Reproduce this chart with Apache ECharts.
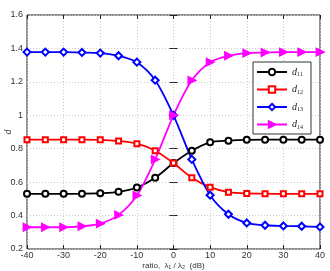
<!DOCTYPE html>
<html lang="en">
<head>
  <script src="https://cdn.jsdelivr.net/npm/echarts@6.0.0/dist/echarts.min.js"></script>
</head>
<body style="margin:0">
  <div id="ratioChart" style="width:330px;height:271px;"></div>
  <script type="text/javascript">
    var ratios = [-40, -35, -30, -25, -20, -15, -10, -5, 0, 5, 10, 15, 20, 25, 30, 35, 40];
    var d11 = [0.530, 0.530, 0.530, 0.531, 0.534, 0.542, 0.568, 0.626, 0.714, 0.788, 0.838, 0.848, 0.853, 0.854, 0.854, 0.854, 0.854];
    var d12 = [0.854, 0.854, 0.854, 0.854, 0.853, 0.846, 0.830, 0.788, 0.714, 0.626, 0.570, 0.540, 0.532, 0.531, 0.530, 0.530, 0.530];
    var d13 = [1.378, 1.378, 1.378, 1.376, 1.372, 1.356, 1.318, 1.210, 1.000, 0.736, 0.522, 0.408, 0.356, 0.342, 0.338, 0.336, 0.332];
    var d14 = [0.330, 0.330, 0.330, 0.336, 0.352, 0.404, 0.520, 0.736, 1.000, 1.209, 1.318, 1.356, 1.372, 1.376, 1.378, 1.378, 1.378];
    var seriesNames = ['d11', 'd12', 'd13', 'd14'];

    function pairs(values) {
      return ratios.map(function (r, i) { return [r, values[i]]; });
    }

    var chart = echarts.init(document.getElementById('ratioChart'));

    function line(name, values, color, symbol, extra) {
      var s = {
        name: name,
        type: 'line',
        data: pairs(values),
        smooth: 0.3,
        symbol: symbol,
        symbolSize: 6,
        lineStyle: { color: color, width: 1.8 },
        itemStyle: { color: color, borderColor: color, borderWidth: 1.8 }
      };
      for (var k in extra) s[k] = extra[k];
      return s;
    }

    var option = {
      animation: false,
      grid: {
        left: 27, right: 10, top: 15, bottom: 22,
        containLabel: false, outerBoundsMode: 'none',
        show: true, borderColor: '#222', borderWidth: 1
      },
      xAxis: [{
        type: 'value', min: -40, max: 40, interval: 10,
        axisLine: { show: false },
        axisTick: { inside: true, length: 4, lineStyle: { color: '#222' } },
        axisLabel: { fontFamily: 'Liberation Sans', fontSize: 9, color: '#333', margin: 2 },
        splitLine: { lineStyle: { color: '#ccc', type: [1, 2] } },
        name: 'ratio,  λ\u2081 / λ\u2082  (dB)',
        nameLocation: 'middle', nameGap: 13, nameMoveOverlap: false,
        nameTextStyle: { fontFamily: 'Liberation Sans', fontSize: 8, color: '#333' }
      }, {
        type: 'value', position: 'top', min: -40, max: 40, interval: 10,
        axisLine: { show: false }, axisLabel: { show: false }, splitLine: { show: false },
        axisTick: { inside: true, length: 4, lineStyle: { color: '#222' } }
      }],
      yAxis: [{
        type: 'value', min: 0.2, max: 1.6, interval: 0.2,
        axisLine: { show: false },
        axisTick: { inside: true, length: 4, lineStyle: { color: '#222' } },
        axisLabel: {
          fontFamily: 'Liberation Sans', fontSize: 9, color: '#333', margin: 4,
          formatter: function (v) { return String(Math.round(v * 10) / 10); }
        },
        splitLine: { lineStyle: { color: '#ccc', type: [1, 2] } },
        name: 'd', nameLocation: 'middle', nameGap: 14, nameMoveOverlap: false,
        nameTextStyle: { fontFamily: 'Liberation Serif', fontStyle: 'italic', fontSize: 10, color: '#333' }
      }, {
        type: 'value', position: 'right', min: 0.2, max: 1.6, interval: 0.2,
        axisLine: { show: false }, axisLabel: { show: false }, splitLine: { show: false },
        axisTick: { inside: true, length: 4, lineStyle: { color: '#222' } }
      }],
      legend: {
        data: seriesNames,
        orient: 'vertical',
        left: 253, top: 62,
        padding: [5, 8, 4, 3],
        itemWidth: 30, itemHeight: 8, itemGap: 7,
        backgroundColor: '#fff',
        borderColor: '#333', borderWidth: 1, borderRadius: 0,
        formatter: function (name) { return '{d|d}{s|' + name.slice(1) + '}'; },
        textStyle: {
          rich: {
            d: { fontFamily: 'Liberation Serif', fontStyle: 'italic', fontSize: 10, color: '#222' },
            s: { fontFamily: 'Liberation Serif', fontSize: 6, color: '#222', verticalAlign: 'bottom', padding: [5, 0, 0, 0] }
          }
        }
      },
      series: [
        line('d11', d11, '#000000', 'emptyCircle', {}),
        line('d12', d12, '#ff0000', 'emptyRect', { symbolSize: 5 }),
        line('d13', d13, '#0000ff', 'emptyDiamond', { symbolSize: 7 }),
        line('d14', d14, '#ff00ff', 'triangle', { symbolRotate: -90, symbolSize: 7 })
      ]
    };

    chart.setOption(option);
  </script>
</body>
</html>
